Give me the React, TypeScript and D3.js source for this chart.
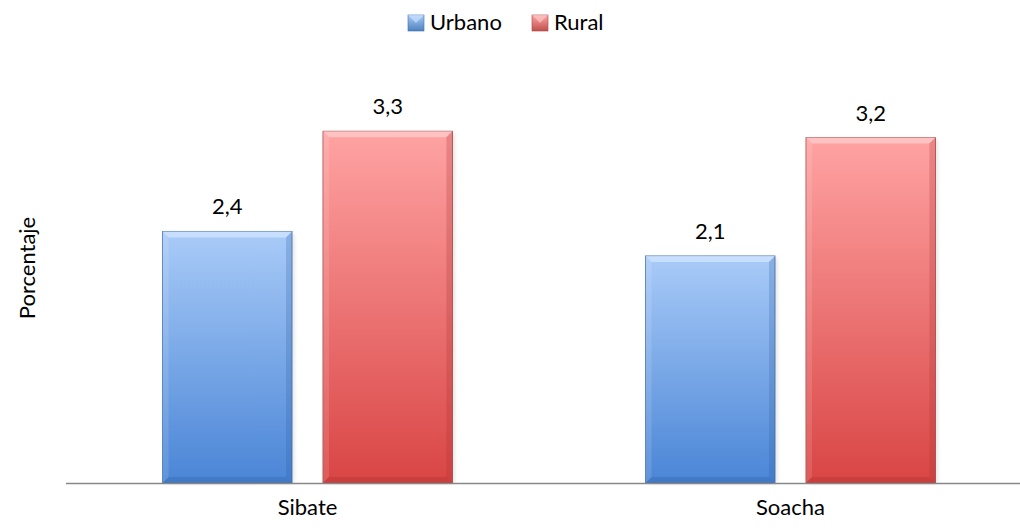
import React from "react";
import * as d3 from "d3";

const categories = ["Sibate", "Soacha"];
const series = ["Urbano", "Rural"];
const urbanoValues = [2.36, 2.13];
const ruralValues = [3.3, 3.24];
const yAxisLabel = "Porcentaje";

const W = 1020;
const H = 530;
const FONT = "Lato, 'Open Sans', sans-serif";

const palettes: Record<string, { top: string; bottom: string; edge: string; light: string; dark: string; swatch: string }> = {
  Urbano: { top: "#a9cbf8", bottom: "#4a85d6", edge: "#3f6fae", light: "#d6e7ff", dark: "#2f5f9f", swatch: "#4f81bd" },
  Rural: { top: "#ffa3a3", bottom: "#d94545", edge: "#a84444", light: "#ffd0d0", dark: "#a83030", swatch: "#c0504d" },
};

export default function App() {
  const baseline = 483;
  const y = d3.scaleLinear().domain([0, 4]).range([baseline, baseline - 4 * 106.6]);
  const x0 = d3.scaleBand<string>().domain(categories).range([66, 1032]).paddingInner(0.4).paddingOuter(0.2);
  const x1 = d3.scaleBand<string>().domain(series).range([0, x0.bandwidth()]).paddingInner(0.193);
  const valuesBySeries: Record<string, number[]> = { Urbano: urbanoValues, Rural: ruralValues };
  const fmt = (v: number) => v.toFixed(1).replace(".", ",");
  const bev = 6;

  const bars: any[] = [];
  categories.forEach((c, ci) => {
    series.forEach((s) => {
      const v = valuesBySeries[s][ci];
      const bx = (x0(c) as number) + (x1(s) as number);
      const bw = x1.bandwidth();
      const by = y(v);
      const bh = baseline - by;
      const p = palettes[s];
      bars.push(
        <g key={c + s}>
          <rect x={bx + 2} y={by + 2} width={bw} height={bh - 2} fill="#000" opacity={0.12} filter="url(#blur)" />
          <rect x={bx} y={by} width={bw} height={bh} fill={`url(#grad-${s})`} stroke={p.edge} strokeWidth={0.8} />
          <polygon points={`${bx},${by} ${bx + bw},${by} ${bx + bw - bev},${by + bev} ${bx + bev},${by + bev}`} fill={p.light} opacity={0.7} />
          <polygon points={`${bx},${by} ${bx + bev},${by + bev} ${bx + bev},${baseline - bev} ${bx},${baseline}`} fill="#fff" opacity={0.12} />
          <polygon points={`${bx + bw},${by} ${bx + bw - bev},${by + bev} ${bx + bw - bev},${baseline - bev} ${bx + bw},${baseline}`} fill={p.dark} opacity={0.25} />
          <polygon points={`${bx},${baseline} ${bx + bev},${baseline - bev} ${bx + bw - bev},${baseline - bev} ${bx + bw},${baseline}`} fill={p.dark} opacity={0.3} />
          <text x={bx + bw / 2} y={by - 17} textAnchor="middle" fontSize={22} fontFamily={FONT} fill="#000">
            {fmt(v)}
          </text>
        </g>
      );
    });
  });

  const legendItems = [
    { s: "Urbano", x: 408 },
    { s: "Rural", x: 532 },
  ];

  return (
    <svg width={W} height={H} style={{ position: "absolute", left: 0, top: 0, background: "#fff" }}>
      <defs>
        {series.map((s) => (
          <linearGradient key={s} id={`grad-${s}`} x1="0" y1="0" x2="0" y2="1">
            <stop offset="0" stopColor={palettes[s].top} />
            <stop offset="1" stopColor={palettes[s].bottom} />
          </linearGradient>
        ))}
        {series.map((s) => (
          <linearGradient key={s + "sw"} id={`sw-${s}`} x1="0" y1="0" x2="0" y2="1">
            <stop offset="0" stopColor={palettes[s].top} />
            <stop offset="1" stopColor={palettes[s].swatch} />
          </linearGradient>
        ))}
        <filter id="blur" x="-10%" y="-10%" width="120%" height="120%">
          <feGaussianBlur stdDeviation="2" />
        </filter>
      </defs>
      <rect width={W} height={H} fill="#fff" />
      {bars}
      <line x1={66} x2={1020} y1={baseline + 0.5} y2={baseline + 0.5} stroke="#888" strokeWidth={1.5} />
      {categories.map((c) => (
        <text key={c} x={(x0(c) as number) + x0.bandwidth() / 2} y={515} textAnchor="middle" fontSize={22} fontFamily={FONT} fill="#000">
          {c}
        </text>
      ))}
      <text transform={`translate(35,268) rotate(-90)`} textAnchor="middle" fontSize={22} fontFamily={FONT} fill="#000">
        {yAxisLabel}
      </text>
      {legendItems.map(({ s, x }) => (
        <g key={s}>
          <rect x={x} y={15} width={16} height={16} fill={`url(#sw-${s})`} stroke={palettes[s].edge} strokeWidth={0.6} />
          <polygon points={`${x},15 ${x + 16},15 ${x + 8},23`} fill={palettes[s].light} opacity={0.6} />
          <text x={x + 22} y={30} fontSize={22} fontFamily={FONT} fill="#000">
            {s}
          </text>
        </g>
      ))}
    </svg>
  );
}
